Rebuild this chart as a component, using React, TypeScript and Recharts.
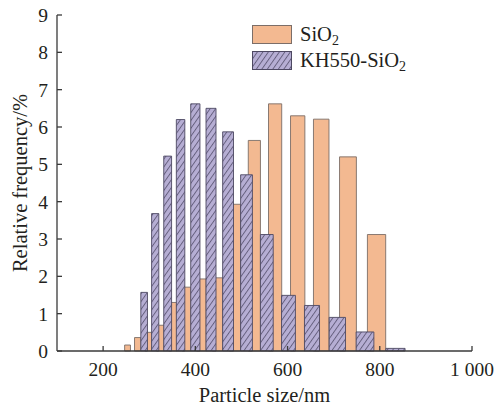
import React from 'react';
import { ComposedChart, XAxis, YAxis, ReferenceArea, Legend, Label } from 'recharts';

// bin centres (nm) and relative frequency (%)
const SIO2_SIZE = [253, 275, 298, 324, 351, 381, 413, 448, 486, 528, 573, 622, 673, 731, 793];
const SIO2_FREQ = [0.16, 0.36, 0.5, 0.69, 1.3, 1.71, 1.93, 1.96, 3.93, 5.64, 6.62, 6.3, 6.21, 5.2, 3.12];

const KH_SIZE = [289, 313, 340, 368, 400, 434, 471, 511, 555, 602, 653, 708, 768, 834];
const KH_FREQ = [1.57, 3.68, 5.22, 6.2, 6.62, 6.5, 5.87, 4.72, 3.12, 1.49, 1.22, 0.9, 0.51, 0.07];

const X_TICKS = [200, 400, 600, 800, 1000];
const Y_TICKS = [0, 1, 2, 3, 4, 5, 6, 7, 8, 9];

// bars fill ~5% of their centre value (log-spaced bins)
const BAR_REL = 0.025;

const FONT = '"Liberation Serif", "Times New Roman", serif';
const INK = '#231f20';
const AXIS = '#3a3a3a';
const ORANGE = '#f3b991';
const ORANGE_EDGE = '#7c6e68';
const PURPLE_EDGE = '#4d4862';

const rows = KH_SIZE.map((s, i) => ({ size: s, kh: KH_FREQ[i] }));

const fmtX = (v: number) => (v >= 1000 ? '1 000' : String(v));

const renderLegend = () => (
  <div style={{ fontFamily: FONT, fontSize: 20.5, color: INK }}>
    <div style={{ display: 'flex', alignItems: 'center', height: 25.5 }}>
      <svg width={40} height={19} style={{ display: 'block' }}>
        <rect x={0.5} y={0.5} width={39} height={18} fill={ORANGE} stroke={ORANGE_EDGE} strokeWidth={1} />
      </svg>
      <span style={{ marginLeft: 8 }}>
        SiO<span style={{ fontSize: 14, position: 'relative', top: 4 }}>2</span>
      </span>
    </div>
    <div style={{ display: 'flex', alignItems: 'center', height: 25.5 }}>
      <svg width={40} height={19} style={{ display: 'block' }}>
        <rect x={0.5} y={0.5} width={39} height={18} fill="url(#khHatch)" stroke={PURPLE_EDGE} strokeWidth={1} />
      </svg>
      <span style={{ marginLeft: 8 }}>
        KH550-SiO<span style={{ fontSize: 14, position: 'relative', top: 4 }}>2</span>
      </span>
    </div>
  </div>
);

export default function App() {
  return (
    <div style={{ position: 'absolute', left: 0, top: 0, width: 497, height: 405, background: '#fff' }}>
      <ComposedChart width={497} height={405} data={rows} margin={{ top: 15, right: 25, bottom: 0, left: 0 }}>
        <defs>
          <pattern id="khHatch" patternUnits="userSpaceOnUse" width={4.5} height={4.5} patternTransform="rotate(35)">
            <rect x={0} y={0} width={4.5} height={4.5} fill="#b6aed4" />
            <line x1={0.5} y1={0} x2={0.5} y2={4.5} stroke="#615b7a" strokeWidth={0.9} />
          </pattern>
        </defs>
        <XAxis
          type="number"
          dataKey="size"
          domain={[100, 1000]}
          ticks={X_TICKS}
          allowDataOverflow
          height={54}
          tickSize={-5}
          tickMargin={16}
          tickFormatter={fmtX}
          axisLine={{ stroke: AXIS, strokeWidth: 1.3 }}
          tickLine={{ stroke: AXIS, strokeWidth: 1.3 }}
          tick={{ fill: INK, fontSize: 19.5, fontFamily: FONT }}
        >
          <Label value="Particle size/nm" position="insideBottom" offset={3} fill={INK} fontSize={20.5} fontFamily={FONT} />
        </XAxis>
        <YAxis
          type="number"
          domain={[0, 9]}
          ticks={Y_TICKS}
          allowDataOverflow
          width={57}
          tickSize={-5}
          tickMargin={14}
          axisLine={{ stroke: AXIS, strokeWidth: 1.3 }}
          tickLine={{ stroke: AXIS, strokeWidth: 1.3 }}
          tick={{ fill: INK, fontSize: 19.5, fontFamily: FONT }}
        >
          <Label
            value="Relative frequency/%"
            angle={-90}
            position="insideLeft"
            offset={20}
            fill={INK}
            fontSize={20.5}
            fontFamily={FONT}
            style={{ textAnchor: 'middle' }}
          />
        </YAxis>
        {SIO2_SIZE.map((s, i) => (
          <ReferenceArea
            key={'s' + i}
            x1={s * (1 - BAR_REL)}
            x2={s * (1 + BAR_REL)}
            y1={0}
            y2={SIO2_FREQ[i]}
            fill={ORANGE}
            fillOpacity={1}
            stroke={ORANGE_EDGE}
            strokeWidth={0.9}
            ifOverflow="visible"
          />
        ))}
        {KH_SIZE.map((s, i) => (
          <ReferenceArea
            key={'k' + i}
            x1={s * (1 - BAR_REL)}
            x2={s * (1 + BAR_REL)}
            y1={0}
            y2={KH_FREQ[i]}
            fill="url(#khHatch)"
            fillOpacity={1}
            stroke={PURPLE_EDGE}
            strokeWidth={0.9}
            ifOverflow="visible"
          />
        ))}
        <Legend
          layout="vertical"
          align="center"
          verticalAlign="middle"
          wrapperStyle={{ left: 252, top: 22, width: 220 }}
          content={renderLegend}
        />
      </ComposedChart>
    </div>
  );
}
